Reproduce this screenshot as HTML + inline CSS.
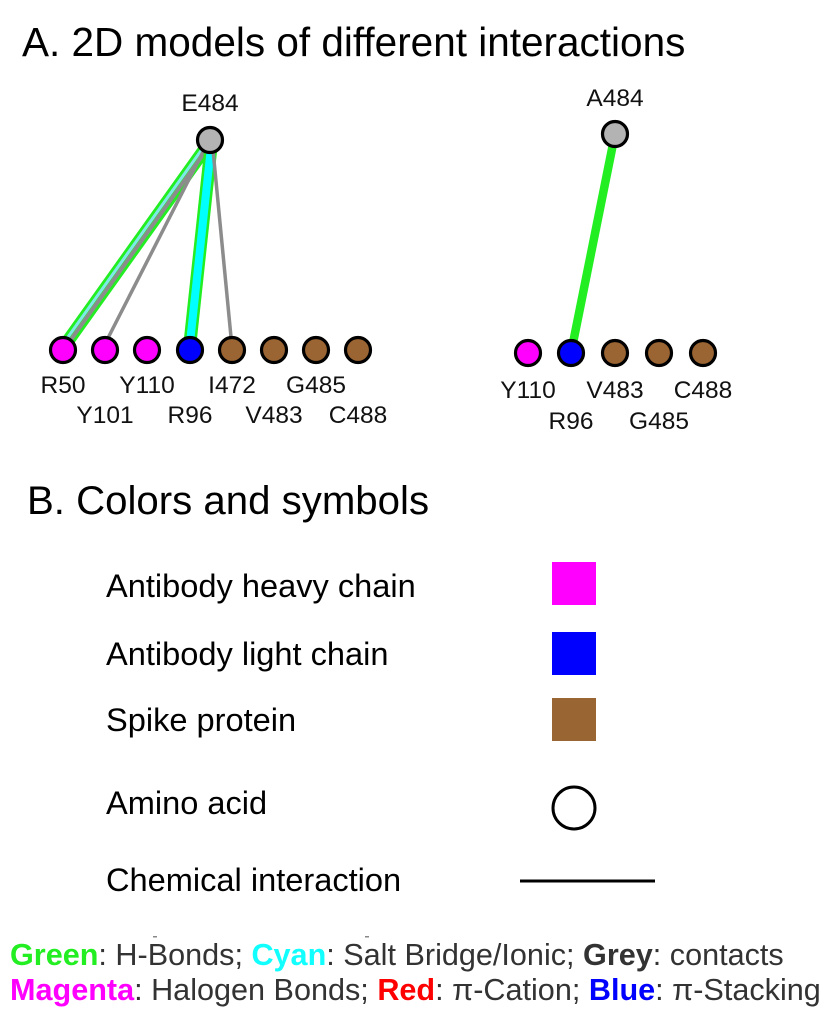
<!DOCTYPE html>
<html>
<head>
<meta charset="utf-8">
<style>
html,body{margin:0;padding:0;background:#fff;}
svg{display:block;}
text{font-family:"Liberation Sans",Arial,sans-serif;}
</style>
</head>
<body>
<svg width="832" height="1024" viewBox="0 0 832 1024" xmlns="http://www.w3.org/2000/svg">
<rect width="832" height="1024" fill="#fff"/>

<!-- Titles -->
<text x="22" y="56" font-size="40.5" fill="#000">A. 2D models of different interactions</text>
<text x="27" y="514" font-size="40.2" fill="#000">B. Colors and symbols</text>

<!-- Left diagram connectors -->
<g stroke-linecap="butt">
  <!-- E484 -> R50 composite -->
  <line x1="207" y1="146" x2="65" y2="345" stroke="#22ee22" stroke-width="13"/>
  <line x1="205.2" y1="144.7" x2="63.2" y2="343.7" stroke="#7fe8e8" stroke-width="3"/>
  <line x1="208.4" y1="147" x2="66.4" y2="346" stroke="#8c8c8c" stroke-width="4"/>
  <!-- E484 -> Y101 grey -->
  <line x1="205" y1="148" x2="108" y2="338" stroke="#8c8c8c" stroke-width="3.5"/>
  <!-- E484 -> R96 green + cyan -->
  <line x1="211" y1="147" x2="190" y2="343" stroke="#22ee22" stroke-width="13"/>
  <line x1="211" y1="147" x2="190" y2="343" stroke="#00ffff" stroke-width="8"/>
  <!-- E484 -> I472 grey -->
  <line x1="213" y1="150" x2="231" y2="337" stroke="#8c8c8c" stroke-width="3.5"/>
</g>

<!-- Left nodes -->
<g stroke="#000" stroke-width="3.2">
  <circle cx="210" cy="140" r="12.5" fill="#b3b3b3"/>
  <circle cx="63" cy="350" r="12.5" fill="#ff00ff"/>
  <circle cx="105" cy="350" r="12.5" fill="#ff00ff"/>
  <circle cx="147" cy="350" r="12.5" fill="#ff00ff"/>
  <circle cx="190" cy="350" r="12.5" fill="#0000ff"/>
  <circle cx="232" cy="350" r="12.5" fill="#9a6533"/>
  <circle cx="274" cy="350" r="12.5" fill="#9a6533"/>
  <circle cx="316" cy="350" r="12.5" fill="#9a6533"/>
  <circle cx="358" cy="350" r="12.5" fill="#9a6533"/>
</g>

<!-- Left labels -->
<g font-size="24.5" fill="#111" text-anchor="middle">
  <text x="210" y="111">E484</text>
  <text x="63" y="393">R50</text>
  <text x="147" y="393">Y110</text>
  <text x="232" y="393">I472</text>
  <text x="316" y="393">G485</text>
  <text x="105" y="423">Y101</text>
  <text x="190" y="423">R96</text>
  <text x="274" y="423">V483</text>
  <text x="358" y="423">C488</text>
</g>

<!-- Right diagram -->
<line x1="615" y1="134" x2="571" y2="353" stroke="#22ee22" stroke-width="8.5"/>
<g stroke="#000" stroke-width="3.2">
  <circle cx="615" cy="134" r="12.5" fill="#b3b3b3"/>
  <circle cx="528" cy="353" r="12.5" fill="#ff00ff"/>
  <circle cx="571" cy="353" r="12.5" fill="#0000ff"/>
  <circle cx="615" cy="353" r="12.5" fill="#9a6533"/>
  <circle cx="659" cy="353" r="12.5" fill="#9a6533"/>
  <circle cx="703" cy="353" r="12.5" fill="#9a6533"/>
</g>
<g font-size="24.5" fill="#111" text-anchor="middle">
  <text x="615" y="106">A484</text>
  <text x="528" y="398">Y110</text>
  <text x="615" y="398">V483</text>
  <text x="703" y="398">C488</text>
  <text x="571" y="429">R96</text>
  <text x="659" y="429">G485</text>
</g>

<!-- Legend -->
<g font-size="32.6" fill="#000">
  <text x="106" y="597">Antibody heavy chain</text>
  <text x="106" y="665">Antibody light chain</text>
  <text x="106" y="731">Spike protein</text>
  <text x="106" y="814">Amino acid</text>
  <text x="106" y="891">Chemical interaction</text>
</g>
<rect x="552" y="562" width="44" height="43" fill="#ff00ff"/>
<rect x="552" y="632" width="44" height="43" fill="#0000ff"/>
<rect x="552" y="698" width="44" height="43" fill="#996633"/>
<circle cx="574" cy="808" r="21" fill="none" stroke="#000" stroke-width="3"/>
<line x1="520" y1="881" x2="655" y2="881" stroke="#000" stroke-width="3"/>

<!-- small artifacts -->
<rect x="153" y="936" width="4" height="1.5" fill="#888"/>
<rect x="365" y="936" width="4" height="1.5" fill="#888"/>

<!-- Footer -->
<g font-size="30.6" fill="#333">
  <text x="10" y="965"><tspan font-weight="bold" fill="#22ee22">Green</tspan>: H-Bonds; <tspan font-weight="bold" fill="#11ffff">Cyan</tspan>: Salt Bridge/Ionic; <tspan font-weight="bold" fill="#333">Grey</tspan>: contacts</text>
  <text x="10" y="1000"><tspan font-weight="bold" fill="#ff00ff">Magenta</tspan>: Halogen Bonds; <tspan font-weight="bold" fill="#ff0000">Red</tspan>: π-Cation; <tspan font-weight="bold" fill="#0000ff">Blue</tspan>: π-Stacking</text>
</g>
</svg>
</body>
</html>
